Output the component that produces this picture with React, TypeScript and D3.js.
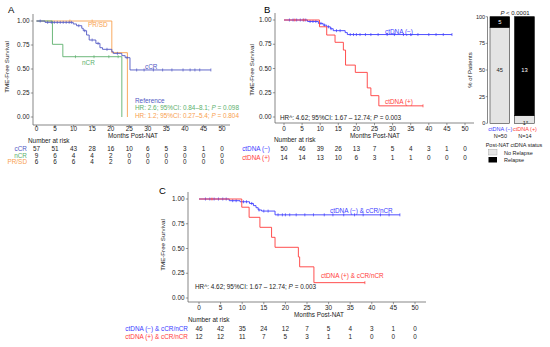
import React from 'react';
import * as d3 from 'd3';

const FONT = "'Liberation Sans', Arial, Helvetica, sans-serif";
const AXIS = '#555';
const TXT = '#222';

const A_BLUE = '#5158c4';
const A_GREEN = '#5cb06c';
const A_ORANGE = '#f8a04e';
const BLUE = '#3b3bff';
const RED = '#ff3b3b';

const months = [0, 5, 10, 15, 20, 25, 30, 35, 40, 45, 50];
const survTicks = [0, 0.25, 0.5, 0.75, 1];
const survTickLabels = ['0.00', '0.25', '0.50', '0.75', '1.00'];

// panel A: response groups
const aCcrSteps = [[0, 1], [2.3, 0.986], [9.9, 0.969], [10.8, 0.951], [12.2, 0.924], [12.6, 0.899], [13.5, 0.854], [14.2, 0.802], [16, 0.767], [17.1, 0.722], [17.8, 0.705], [20.3, 0.68], [20.7, 0.663], [23, 0.639], [23.9, 0.618], [25.2, 0.49]];
const aCcrEnd = 47;
const aCcrCensor = [1, 3, 4, 4.8, 5.6, 6.4, 7.2, 8, 8.8, 9.4, 11.4, 13, 15, 16.6, 19, 21.8, 24.4, 27, 29, 31.5, 34, 36.5, 39.5, 41.4, 42.7, 44, 47];
const aNcrSteps = [[0, 1], [4.3, 0.757], [7.1, 0.628], [23, 0]];
const aNcrEnd = 23;
const aNcrCensor = [10.5, 15.5, 19.5, 22];
const aPrSteps = [[0, 1], [20.3, 0.67], [24.5, 0]];
const aPrEnd = 24.5;
const aPrCensor = [9, 15];

const aRiskCcr = [57, 51, 43, 28, 16, 10, 6, 5, 3, 1, 0];
const aRiskNcr = [9, 6, 4, 4, 2, 0, 0, 0, 0, 0, 0];
const aRiskPr = [6, 6, 6, 4, 2, 0, 0, 0, 0, 0, 0];

// panel B: ctDNA status
const bNegSteps = [[0, 1], [6.5, 0.985], [9.5, 0.965], [10.8, 0.947], [11.8, 0.93], [12.8, 0.91], [13.6, 0.89], [16.9, 0.87], [17.5, 0.85]];
const bNegEnd = 46.4;
const bNegCensor = [1.5, 2.5, 3.5, 4.5, 5.3, 6, 7.2, 8, 8.8, 10.2, 11.2, 12.3, 13, 14.5, 15.5, 18.3, 19.2, 20, 21, 22.5, 24, 26, 28.5, 30.5, 33, 35, 37, 40, 42, 44, 46.4];
const bPosSteps = [[0, 1], [9.8, 0.93], [11.8, 0.845], [14.1, 0.77], [16.4, 0.69], [17, 0.535], [19.7, 0.46], [23, 0.3], [24, 0.22], [26.2, 0.115]];
const bPosEnd = 38.4;
const bPosCensor = [3, 5.5, 38.4];

const bRiskNeg = [50, 46, 39, 26, 13, 7, 5, 4, 3, 1, 0];
const bRiskPos = [14, 14, 13, 10, 6, 3, 1, 1, 0, 0, 0];

// panel C: ctDNA status within cCR/nCR
const cNegSteps = [[0, 1], [7, 0.983], [9.5, 0.972], [11.7, 0.955], [12.6, 0.933], [13.2, 0.912], [13.7, 0.889], [14.5, 0.878], [17.6, 0.84]];
const cNegEnd = 46.5;
const cNegCensor = [1.5, 2.5, 3.5, 4.5, 5.5, 6.3, 7.8, 8.6, 10.3, 11, 12.2, 13.9, 15, 16, 18.3, 19.3, 20, 21, 22.5, 24.5, 26.5, 29, 31, 33.5, 36, 38, 42, 44, 46.5];
const cPosSteps = [[0, 1], [9.9, 0.917], [11.6, 0.815], [14.1, 0.714], [16.8, 0.613], [17.6, 0.512], [23, 0.415], [23.3, 0.315], [26.6, 0.155]];
const cPosEnd = 38.4;
const cPosCensor = [3, 38.4];

const cRiskNeg = [46, 42, 35, 24, 12, 7, 5, 4, 3, 1, 0];
const cRiskPos = [12, 12, 11, 7, 5, 3, 1, 1, 0, 0, 0];

// bar panel
const barGroups = ['ctDNA (−)', 'ctDNA (+)'];
const barColors = [BLUE, RED];
const barN = ['N=50', 'N=14'];
const noRelapse = [45, 1];
const relapse = [5, 13];
const barLabels = [['45', '5'], ['1*', '13']];
const pctTicks = [0, 25, 50, 75, 100];

const survAt = (steps, t) => {
  let v = steps[0][1];
  for (const s of steps) if (s[0] <= t) v = s[1];
  return v;
};

function HrText({ x, y, color, pre, post }) {
  return (
    <text x={x} y={y} fill={color} fontSize={6.4}>
      {pre}<tspan fontStyle="italic">P</tspan>{post}
    </text>
  );
}

function KMPlot(p) {
  const x = d3.scaleLinear().domain([0, 50]).range(p.xr);
  const y = d3.scaleLinear().domain([0, 1]).range(p.yr);
  const line = d3.line().x(d => x(d[0])).y(d => y(d[1])).curve(d3.curveStepAfter);
  return (
    <g fontFamily={FONT}>
      <text x={p.letter[0]} y={p.letter[1]} fontSize={9.5} fill="#000">{p.letterText}</text>
      <line x1={p.axX} x2={p.axX} y1={p.axYTop} y2={p.axY} stroke={AXIS} strokeWidth={0.7} />
      <line x1={p.axX} x2={p.axXEnd} y1={p.axY} y2={p.axY} stroke={AXIS} strokeWidth={0.7} />
      {survTicks.map((v, i) => (
        <g key={'y' + i}>
          <line x1={p.axX - 2.2} x2={p.axX} y1={y(v)} y2={y(v)} stroke={AXIS} strokeWidth={0.6} />
          <text x={p.axX - 3.5} y={y(v)} dy="0.35em" textAnchor="end" fontSize={6.4} fill={TXT}>{survTickLabels[i]}</text>
        </g>
      ))}
      {months.map(m => (
        <g key={'x' + m}>
          <line x1={x(m)} x2={x(m)} y1={p.axY} y2={p.axY + 2.2} stroke={AXIS} strokeWidth={0.6} />
          <text x={x(m)} y={p.tickBase} textAnchor="middle" fontSize={6.4} fill={TXT}>{m}</text>
        </g>
      ))}
      <text transform={`translate(${p.yTitle[0]},${p.yTitle[1]}) rotate(-90)`} textAnchor="middle" fontSize={6.2} fill={TXT}>TME-Free Survival</text>
      <text x={p.xTitle[0]} y={p.xTitle[1]} textAnchor="middle" fontSize={6.4} fill={TXT}>Months Post-NAT</text>
      <text x={p.nar[0]} y={p.nar[1]} fontSize={6.4} fill={TXT}>Number at risk</text>
      {p.rows.map((r, ri) => (
        <g key={'r' + ri}>
          <text x={p.rowLabelX} y={r.base} textAnchor="end" fontSize={6.4} fill={r.color}>{r.label}</text>
          {r.values.map((v, i) => (
            <text key={i} x={x(months[i])} y={r.base} textAnchor="middle" fontSize={6.4} fill={TXT}>{v}</text>
          ))}
        </g>
      ))}
      {p.curves.map((c, ci) => {
        const pts = [...c.steps, [c.end, c.steps[c.steps.length - 1][1]]];
        return (
          <g key={'c' + ci}>
            <path d={line(pts)} fill="none" stroke={c.color} strokeWidth={0.9} />
            {c.censor.map((t, k) => (
              <line key={k} x1={x(t)} x2={x(t)} y1={y(survAt(c.steps, t)) - 1.5} y2={y(survAt(c.steps, t)) + 1.5} stroke={c.color} strokeWidth={0.7} />
            ))}
          </g>
        );
      })}
      {p.children}
    </g>
  );
}

function BarPanel() {
  const x = d3.scaleBand().domain(barGroups).range([490, 534.3]).paddingInner(0.2);
  const y = d3.scaleLinear().domain([0, 100]).range([123.3, 16.7]);
  const axX = 487.5;
  const fs = 5.5;
  return (
    <g fontFamily={FONT}>
      <text x={515} y={14.5} textAnchor="middle" fontSize={6} fill={TXT}>
        <tspan fontStyle="italic">P</tspan> &lt; 0.0001
      </text>
      <line x1={axX} x2={axX} y1={y(100)} y2={y(0)} stroke={AXIS} strokeWidth={0.7} />
      {pctTicks.map(t => (
        <g key={t}>
          <line x1={axX - 1.8} x2={axX} y1={y(t)} y2={y(t)} stroke={AXIS} strokeWidth={0.6} />
          <text x={axX - 2.3} y={y(t)} dy="0.35em" textAnchor="end" fontSize={fs} fill={TXT}>{t}</text>
        </g>
      ))}
      <text transform="translate(472,70) rotate(-90)" textAnchor="middle" fontSize={6} fill={TXT}>% of Patients</text>
      {barGroups.map((g, i) => {
        const n = noRelapse[i] + relapse[i];
        const pNo = (noRelapse[i] / n) * 100;
        const bx = x(g);
        const bw = x.bandwidth();
        const cx = bx + bw / 2;
        const noY = pNo >= 50 ? 50 : null;
        const relY = 100 - pNo >= 50 ? 50 : (pNo + 100) / 2;
        return (
          <g key={g}>
            <rect x={bx} y={y(pNo)} width={bw} height={y(0) - y(pNo)} fill="#e4e4e4" stroke="#333" strokeWidth={0.6} />
            <rect x={bx} y={y(100)} width={bw} height={y(pNo) - y(100)} fill="#000" stroke="#000" strokeWidth={0.6} />
            {noY !== null
              ? <text x={cx} y={y(noY)} dy="0.35em" textAnchor="middle" fontSize={fs + 0.3} fill={TXT}>{barLabels[i][0]}</text>
              : <text x={cx + 1} y={125} textAnchor="middle" fontSize={fs} fill={TXT}>{barLabels[i][0]}</text>}
            <text x={cx} y={y(relY)} dy="0.35em" textAnchor="middle" fontSize={fs + 0.3} fill="#fff">{barLabels[i][1]}</text>
            <text x={cx + 0.5} y={131} textAnchor="middle" fontSize={fs} fill={barColors[i]}>{g}</text>
            <text x={cx + 0.5} y={137.5} textAnchor="middle" fontSize={fs} fill={TXT}>{barN[i]}</text>
          </g>
        );
      })}
      <text x={514} y={146.5} textAnchor="middle" fontSize={fs} fill={TXT}>Post-NAT ctDNA status</text>
      <rect x={488.5} y={149.5} width={8.5} height={5.5} fill="#e4e4e4" stroke="#999" strokeWidth={0.4} />
      <text x={504} y={154.5} fontSize={fs} fill={TXT}>No Relapse</text>
      <rect x={488.5} y={157} width={8.5} height={5.5} fill="#000" />
      <text x={504} y={162} fontSize={fs} fill={TXT}>Relapse</text>
    </g>
  );
}

export default function App() {
  return (
    <svg width={550} height={347} style={{ position: 'absolute', left: 0, top: 0, background: '#fff' }}>
      <rect width={550} height={347} fill="#fff" />
      <KMPlot
        letterText="A" letter={[8, 13]}
        xr={[36.5, 222]} yr={[117, 21]}
        axX={33} axY={125} axYTop={14} axXEnd={230}
        tickBase={131} yTitle={[9, 67]} xTitle={[133, 137.5]} nar={[28, 143]} rowLabelX={27}
        rows={[
          { label: 'cCR', color: A_BLUE, values: aRiskCcr, base: 151 },
          { label: 'nCR', color: A_GREEN, values: aRiskNcr, base: 157.5 },
          { label: 'PR/SD', color: A_ORANGE, values: aRiskPr, base: 164 },
        ]}
        curves={[
          { steps: aPrSteps, end: aPrEnd, censor: aPrCensor, color: A_ORANGE },
          { steps: aNcrSteps, end: aNcrEnd, censor: aNcrCensor, color: A_GREEN },
          { steps: aCcrSteps, end: aCcrEnd, censor: aCcrCensor, color: A_BLUE },
        ]}
      >
        <text x={88} y={27} fontSize={6.4} fill={A_ORANGE}>PR/SD</text>
        <text x={82} y={65} fontSize={6.4} fill={A_GREEN}>nCR</text>
        <text x={145} y={69} fontSize={6.4} fill={A_BLUE}>cCR</text>
        <text x={135} y={102.5} fontSize={6.4} fill={A_BLUE}>Reference</text>
        <HrText x={135} y={110} color={A_GREEN} pre="HR: 2.6; 95%CI: 0.84–8.1; " post=" = 0.098" />
        <HrText x={135} y={118} color={A_ORANGE} pre="HR: 1.2; 95%CI: 0.27–5.4; " post=" = 0.804" />
      </KMPlot>
      <KMPlot
        letterText="B" letter={[264, 13]}
        xr={[284, 465]} yr={[117, 20]}
        axX={275} axY={123} axYTop={13} axXEnd={474}
        tickBase={131} yTitle={[254, 70]} xTitle={[375, 137.5]} nar={[274, 142]} rowLabelX={270}
        rows={[
          { label: 'ctDNA (−)', color: BLUE, values: bRiskNeg, base: 151 },
          { label: 'ctDNA (+)', color: RED, values: bRiskPos, base: 160 },
        ]}
        curves={[
          { steps: bNegSteps, end: bNegEnd, censor: bNegCensor, color: BLUE },
          { steps: bPosSteps, end: bPosEnd, censor: bPosCensor, color: RED },
        ]}
      >
        <text x={385} y={34} fontSize={6.4} fill={BLUE}>ctDNA (−)</text>
        <text x={385} y={103.5} fontSize={6.4} fill={RED}>ctDNA (+)</text>
        <HrText x={280} y={119.5} color={TXT} pre="HR^: 4.62; 95%CI: 1.67 – 12.74; " post=" = 0.003" />
      </KMPlot>
      <BarPanel />
      <KMPlot
        letterText="C" letter={[159, 193.5]}
        xr={[199, 415]} yr={[298, 199]}
        axX={188} axY={302} axYTop={192} axXEnd={426}
        tickBase={309.5} yTitle={[165, 245]} xTitle={[319, 317]} nar={[188, 321.5]} rowLabelX={188}
        rows={[
          { label: 'ctDNA (−) & cCR/nCR', color: BLUE, values: cRiskNeg, base: 331 },
          { label: 'ctDNA (+) & cCR/nCR', color: RED, values: cRiskPos, base: 339 },
        ]}
        curves={[
          { steps: cNegSteps, end: cNegEnd, censor: cNegCensor, color: BLUE },
          { steps: cPosSteps, end: cPosEnd, censor: cPosCensor, color: RED },
        ]}
      >
        <text x={330} y={212.5} fontSize={6.4} fill={BLUE}>ctDNA (−) &amp; cCR/nCR</text>
        <text x={321} y={278} fontSize={6.4} fill={RED}>ctDNA (+) &amp; cCR/nCR</text>
        <HrText x={195} y={289} color={TXT} pre="HR^: 4.62; 95%CI: 1.67 – 12.74; " post=" = 0.003" />
      </KMPlot>
    </svg>
  );
}
